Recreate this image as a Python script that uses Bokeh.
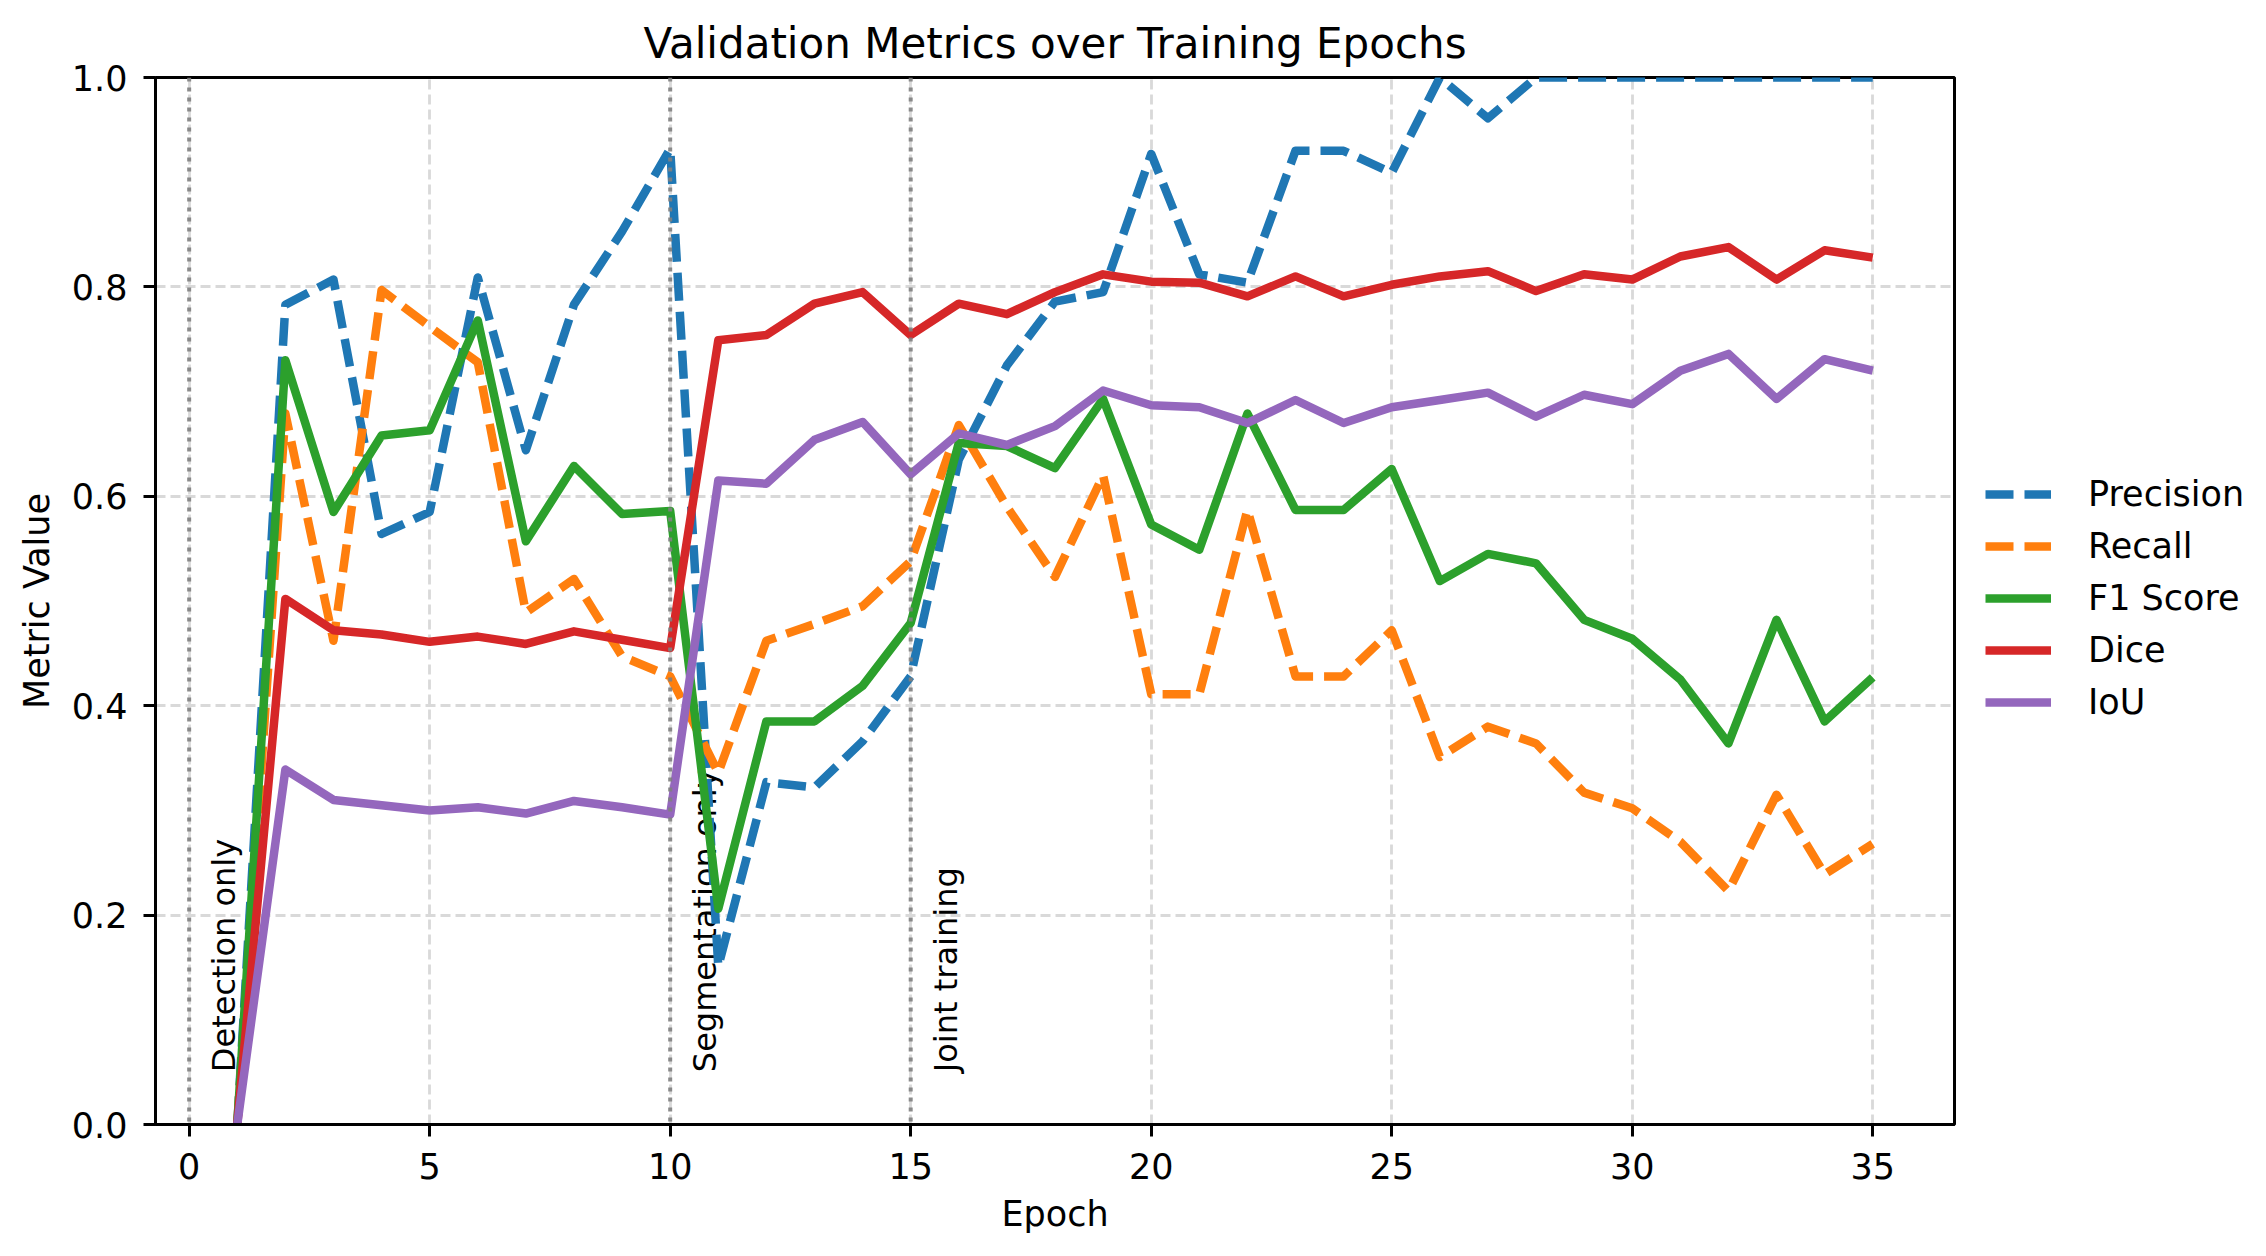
import numpy as np

from bokeh.plotting import figure
from bokeh.layouts import row
from bokeh.models import (ColumnDataSource, Span, Legend, LegendItem,
                          FixedTicker, PrintfTickFormatter)
from bokeh.core.properties import value
from bokeh.embed import file_html
from bokeh.resources import INLINE

# validation metrics per epoch
epochs = list(range(1, 36))
precision = [0.0, 0.783, 0.807, 0.564, 0.585, 0.809, 0.644, 0.783, 0.853, 0.932,
             0.151, 0.327, 0.322, 0.366, 0.428, 0.635, 0.725, 0.786, 0.795, 0.927,
             0.812, 0.804, 0.930, 0.930, 0.909, 1.0, 0.961, 1.0, 1.0, 1.0,
             1.0, 1.0, 1.0, 1.0, 1.0]
recall = [0.0, 0.679, 0.462, 0.797, 0.762, 0.728, 0.489, 0.521, 0.447, 0.428,
          0.336, 0.462, 0.478, 0.495, 0.538, 0.668, 0.590, 0.523, 0.620, 0.411,
          0.411, 0.587, 0.428, 0.428, 0.472, 0.351, 0.380, 0.364, 0.317, 0.302,
          0.270, 0.223, 0.315, 0.239, 0.268]
f1 = [0.0, 0.730, 0.585, 0.658, 0.663, 0.768, 0.557, 0.629, 0.583, 0.586,
      0.206, 0.385, 0.385, 0.419, 0.479, 0.651, 0.648, 0.627, 0.693, 0.573,
      0.549, 0.679, 0.587, 0.587, 0.626, 0.519, 0.545, 0.536, 0.482, 0.464,
      0.425, 0.364, 0.482, 0.385, 0.427]
dice = [0.0, 0.502, 0.472, 0.468, 0.461, 0.466, 0.459, 0.471, 0.463, 0.455,
        0.749, 0.754, 0.784, 0.795, 0.754, 0.784, 0.774, 0.795, 0.812, 0.805,
        0.804, 0.791, 0.810, 0.791, 0.802, 0.810, 0.815, 0.796, 0.812, 0.807,
        0.829, 0.838, 0.807, 0.835, 0.828]
iou = [0.0, 0.339, 0.310, 0.305, 0.300, 0.303, 0.297, 0.309, 0.303, 0.296,
       0.615, 0.612, 0.654, 0.671, 0.621, 0.660, 0.649, 0.667, 0.701, 0.687,
       0.685, 0.670, 0.692, 0.670, 0.685, 0.692, 0.699, 0.676, 0.697, 0.688,
       0.720, 0.736, 0.693, 0.731, 0.720]

# training phases
phase_starts = [0, 10, 15]
phase_names = ["Detection only", "Segmentation only", "Joint training"]

x_ticks = [0, 5, 10, 15, 20, 25, 30, 35]
y_ticks = [0.0, 0.2, 0.4, 0.6, 0.8, 1.0]

series = [
    ("Precision", precision, "#1f77b4", "28 11"),
    ("Recall", recall, "#ff7f0e", "28 11"),
    ("F1 Score", f1, "#2ca02c", "solid"),
    ("Dice", dice, "#d62728", "solid"),
    ("IoU", iou, "#9467bd", "solid"),
]

FONT = "DejaVu Sans"
LW = 8.5
H = 1248
MAIN_W = 155 + 1799 + 5

p = figure(width=MAIN_W, height=H,
           x_range=(-0.7, 36.7), y_range=(0, 1),
           title="Validation Metrics over Training Epochs",
           x_axis_label="Epoch", y_axis_label="Metric Value",
           toolbar_location=None, output_backend="svg",
           min_border_left=155, min_border_top=77, min_border_bottom=124,
           min_border_right=5)

p.title.align = "center"
p.title.text_font = FONT
p.title.text_font_size = "42px"
p.title.text_font_style = "normal"
p.title.text_color = "black"
p.title.standoff = 20

for ax in (p.xaxis[0], p.yaxis[0]):
    ax.axis_label_text_font = FONT
    ax.axis_label_text_font_size = "35px"
    ax.axis_label_text_font_style = "normal"
    ax.axis_label_text_color = "black"
    ax.major_label_text_font = FONT
    ax.major_label_text_font_size = "35px"
    ax.major_label_text_color = "black"
    ax.major_tick_out = 12
    ax.major_tick_in = 0
    ax.minor_tick_out = 0
    ax.minor_tick_in = 0
    ax.major_tick_line_width = 3
    ax.major_tick_line_color = "black"
    ax.axis_line_width = 3
    ax.axis_line_color = "black"
    ax.major_label_standoff = 16
    ax.axis_label_standoff = 12

p.xaxis.ticker = FixedTicker(ticks=x_ticks)
p.yaxis.ticker = FixedTicker(ticks=y_ticks)
p.yaxis.formatter = PrintfTickFormatter(format="%.1f")

p.outline_line_color = "black"
p.outline_line_width = 3
p.outline_line_alpha = 1

for g in (p.xgrid[0], p.ygrid[0]):
    g.grid_line_color = "#d9d9d9"
    g.grid_line_width = 2.8
    g.grid_line_dash = "10 5"

# phase boundaries
for xs in phase_starts:
    p.add_layout(Span(location=xs, dimension="height", line_color="gray",
                      line_width=4, line_dash="4 6", line_alpha=0.9))

p.text(x=[s + 0.5 for s in phase_starts], y=[0.05] * len(phase_starts),
       text=phase_names, angle=np.pi / 2, text_align="left",
       text_baseline="top", x_offset=-8, text_font=value(FONT),
       text_font_size="32px", text_color="black")

for name, vals, color, dash in series:
    p.line(epochs, vals, color=color, line_width=LW, line_dash=dash,
           line_join="round")

# legend lives in a narrow blank figure to the right of the axes;
# its lines carry the same data but sit outside that figure's view
lg = figure(width=2250 - MAIN_W, height=H, toolbar_location=None,
            output_backend="svg", x_axis_type=None, y_axis_type=None,
            x_range=(100, 101), y_range=(100, 101),
            min_border=0, outline_line_color=None)
lg.grid.visible = False
items = []
for name, vals, color, dash in series:
    r = lg.line(epochs, vals, color=color, line_width=LW, line_dash=dash)
    items.append(LegendItem(label=name, renderers=[r]))

legend = Legend(items=items, location=(26, 402))
legend.border_line_color = None
legend.background_fill_alpha = 0
legend.label_text_font = FONT
legend.label_text_font_size = "35px"
legend.label_text_color = "black"
legend.glyph_width = 66
legend.glyph_height = 20
legend.label_standoff = 37
legend.spacing = 12
legend.padding = 0
legend.margin = 0
lg.add_layout(legend)

layout = row(p, lg)
open("out.html", "w").write(file_html(layout, INLINE))
